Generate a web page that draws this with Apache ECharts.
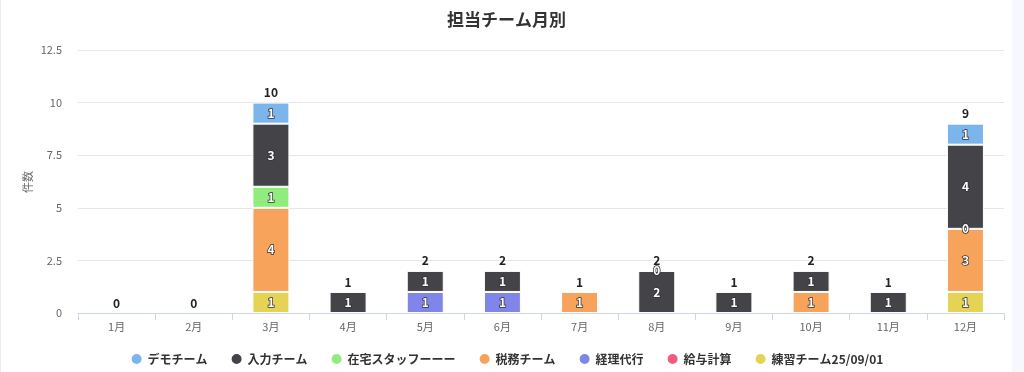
<!DOCTYPE html>
<html>
<head>
<meta charset="utf-8">
<script src="https://cdn.jsdelivr.net/npm/echarts@6/dist/echarts.min.js"></script>
<style>
html,body{margin:0;padding:0;background:#f7f8fd;}
#wrap{position:absolute;left:0;top:0;width:1011px;height:372px;background:#fff;border-left:1px solid #ececec;}
#chart{width:1011px;height:372px;}
</style>
</head>
<body>
<div id="wrap"><div id="chart"></div></div>
<script>
const months = ['1月','2月','3月','4月','5月','6月','7月','8月','9月','10月','11月','12月'];
const legendOrder = ['デモチーム','入力チーム','在宅スタッフーーー','税務チーム','経理代行','給与計算','練習チーム25/09/01'];
const yAxisName = '件数';
// stacked bottom-to-top
const renshu = [null,null,1,null,null,null,null,null,null,null,null,1];
const kyuyo  = [null,null,null,null,null,null,null,null,null,null,null,null];
const keiri  = [null,null,null,null,1,1,null,null,null,null,null,null];
const zeimu  = [null,null,4,null,null,null,1,null,null,1,null,3];
const zaitaku= [null,null,1,null,null,null,null,null,null,null,null,0];
const nyuryoku=[null,null,3,1,1,1,null,2,1,1,1,4];
const demo   = [null,null,1,null,null,null,null,0,null,null,null,1];
const totals = [0,0,10,1,2,2,1,2,1,2,1,9];
const yTicks = {min:0,max:12.5,interval:2.5};

const colors = {
  'デモチーム':'#7cb5ec','入力チーム':'#434348','在宅スタッフーーー':'#90ed7d',
  '税務チーム':'#f7a35c','経理代行':'#8085e9','給与計算':'#f15c80','練習チーム25/09/01':'#e4d354'
};
const stackSeries = [
  ['練習チーム25/09/01',renshu],['給与計算',kyuyo],['経理代行',keiri],['税務チーム',zeimu],
  ['在宅スタッフーーー',zaitaku],['入力チーム',nyuryoku],['デモチーム',demo]
];
const FONT = "'Noto Sans CJK JP', 'Noto Sans', sans-serif";
const series = stackSeries.map(([name,data]) => ({
  name, type:'bar', stack:'total', data, barWidth:37,
  itemStyle:{color:colors[name], borderColor:'#fff', borderWidth:1},
  label:{show:true, position:'inside', color:'#fff', fontWeight:'bold', fontSize:12,
    fontFamily:FONT, textBorderColor:'#333', textBorderWidth:1.5}
}));
series.push({
  name:'合計', type:'bar', stack:'total', data: totals.map(()=>0), barWidth:37,
  itemStyle:{color:'transparent', borderWidth:0},
  label:{show:true, position:'top', distance:4, color:'#222', fontWeight:'bold', fontSize:12,
    fontFamily:FONT, formatter: p => String(totals[p.dataIndex])}
});

const chart = echarts.init(document.getElementById('chart'));
chart.setOption({
  animation:false,
  color: legendOrder.map(n=>colors[n]),
  title:{text:'担当チーム月別', left:'center', top:6,
    textStyle:{fontSize:17, fontWeight:'bold', color:'#333', fontFamily:FONT}},
  legend:{data:legendOrder, top:347, left:'center', icon:'circle', itemWidth:12, itemHeight:12, itemGap:22,
    textStyle:{fontSize:12, fontWeight:'bold', color:'#333', fontFamily:FONT}},
  grid:{left:77, right:8, top:50, bottom:59},
  graphic:[{type:'text', x:27, y:182, rotation:Math.PI/2,
    style:{text:yAxisName, fill:'#666', font:"11px 'Noto Sans CJK JP', sans-serif",
      textAlign:'center', textVerticalAlign:'middle'}}],
  xAxis:{type:'category', data:months,
    axisLine:{lineStyle:{color:'#ccd6eb'}},
    axisTick:{show:true, length:7, lineStyle:{color:'#ccd6eb'}},
    axisLabel:{color:'#666', fontSize:11, fontFamily:FONT, margin:8}},
  yAxis:{type:'value', min:yTicks.min, max:yTicks.max, interval:yTicks.interval,
    axisLabel:{color:'#666', fontSize:11, fontFamily:FONT, margin:16},
    splitLine:{lineStyle:{color:'#e6e6e6'}}},
  series
});
</script>
</body>
</html>
